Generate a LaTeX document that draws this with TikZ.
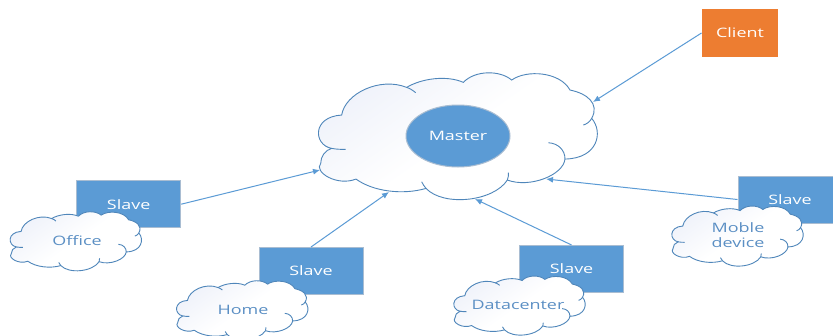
\documentclass[tikz,border=0pt]{standalone}
\usepackage{fontspec}
\setmainfont[FakeStretch=1.38]{Open Sans}
\usetikzlibrary{arrows.meta,shapes.geometric}
\definecolor{boxblue}{HTML}{5B9BD5}
\definecolor{boxedge}{HTML}{A9BDD2}
\definecolor{cloudedge}{HTML}{4F86BA}
\definecolor{cloudtop}{HTML}{EFF2FA}
\definecolor{clientorange}{HTML}{ED7D31}
\definecolor{labelblue}{HTML}{5B8FC4}
\newcommand{\mycloud}[4]{%
  \begin{scope}[shift={(#1,#2)},xscale=#3/847,yscale=#4/380,shift={(-50,-38)}]
    \path[top color=cloudtop,bottom color=white,middle color=white,shading angle=35,draw=cloudedge,cloudline]
      (125,165) .. controls (135,100) and (240,50) .. (320,82)
      .. controls (365,55) and (440,45) .. (490,67)
      .. controls (525,30) and (600,30) .. (635,60)
      .. controls (680,28) and (780,35) .. (810,90)
      .. controls (860,100) and (900,130) .. (875,175)
      .. controls (910,215) and (895,295) .. (795,297)
      .. controls (790,345) and (690,385) .. (622,360)
      .. controls (580,425) and (430,440) .. (378,385)
      .. controls (310,405) and (220,395) .. (168,357)
      .. controls (110,380) and (40,335) .. (62,310)
      .. controls (62,290) and (75,270) .. (95,265)
      .. controls (40,255) and (35,170) .. (125,165) -- cycle;
    \draw[cloudedge,cloudline]
      (320,82) .. controls (330,85) and (340,92) .. (347,98)
      (875,175) .. controls (870,185) and (860,192) .. (850,195)
      (745,248) .. controls (775,250) and (795,270) .. (795,297)
      (622,360) .. controls (625,352) and (626,345) .. (625,338)
      (378,385) .. controls (372,378) and (368,372) .. (365,365)
      (95,265) .. controls (110,268) and (125,268) .. (137,268);
  \end{scope}}
\tikzset{
  cloudline/.style={line width=0.9pt},
  boxnode/.style={draw=boxedge,line width=1pt,fill=boxblue,text=white,font=\fontsize{13}{15}\selectfont,inner sep=0pt,align=center},
  slavebox/.style={boxnode,minimum width=104pt,minimum height=47pt},
  cloudlabel/.style={text=labelblue,font=\fontsize{13}{15}\selectfont,inner sep=0pt,align=center},
  link/.style={draw=boxblue,line width=1pt,-{Latex[length=7pt,width=6pt]}}
}
\begin{document}
\begin{tikzpicture}[x=1pt,y=-1pt]
  \useasboundingbox (0,0) rectangle (833,335);
  \clip (0,0) rectangle (833,335);
  \fill[white] (0,0) rectangle (833,335);
  \coordinate (inclient) at (593,102);
  \coordinate (inoffice) at (320,170);
  \coordinate (inhome) at (389,192);
  \coordinate (indata) at (475,199);
  \coordinate (inmobile) at (546,179);
  \mycloud{316.7}{72.7}{282.3}{126.7}
  \node[boxnode,ellipse,minimum width=104pt,minimum height=62pt,draw=boxedge] (master) at (458,136) {Master};
  \node[boxnode,draw=none,fill=clientorange,minimum width=76pt,minimum height=48pt] (client) at (740,33) {Client};
  \node[slavebox] (slaveA) at (128.7,204.2) {Slave};
  \node[slavebox] (slaveB) at (311,271) {Slave};
  \node[slavebox] (slaveC) at (571.6,269) {Slave};
  \node[slavebox] (slaveD) at (790,199.5) {Slave};
  \mycloud{9.3}{211.7}{133}{59}
  \mycloud{175.7}{280.7}{133}{59}
  \mycloud{453}{276}{133}{59}
  \mycloud{671}{206}{133}{60}
  \node[cloudlabel] (office) at (77,241) {Office};
  \node[cloudlabel] (home) at (243,310) {Home};
  \node[cloudlabel] (datacenter) at (518,305) {Datacenter};
  \node[cloudlabel] (mobile) at (738,235.5) {Moble\\device};
  \draw[link] (client.west) -- (inclient);
  \draw[link] (slaveA.east) -- (inoffice);
  \draw[link] (slaveB.north) -- (inhome);
  \draw[link] (slaveC.north) -- (indata);
  \draw[link] (slaveD.west) -- (inmobile);
\end{tikzpicture}
\end{document}
